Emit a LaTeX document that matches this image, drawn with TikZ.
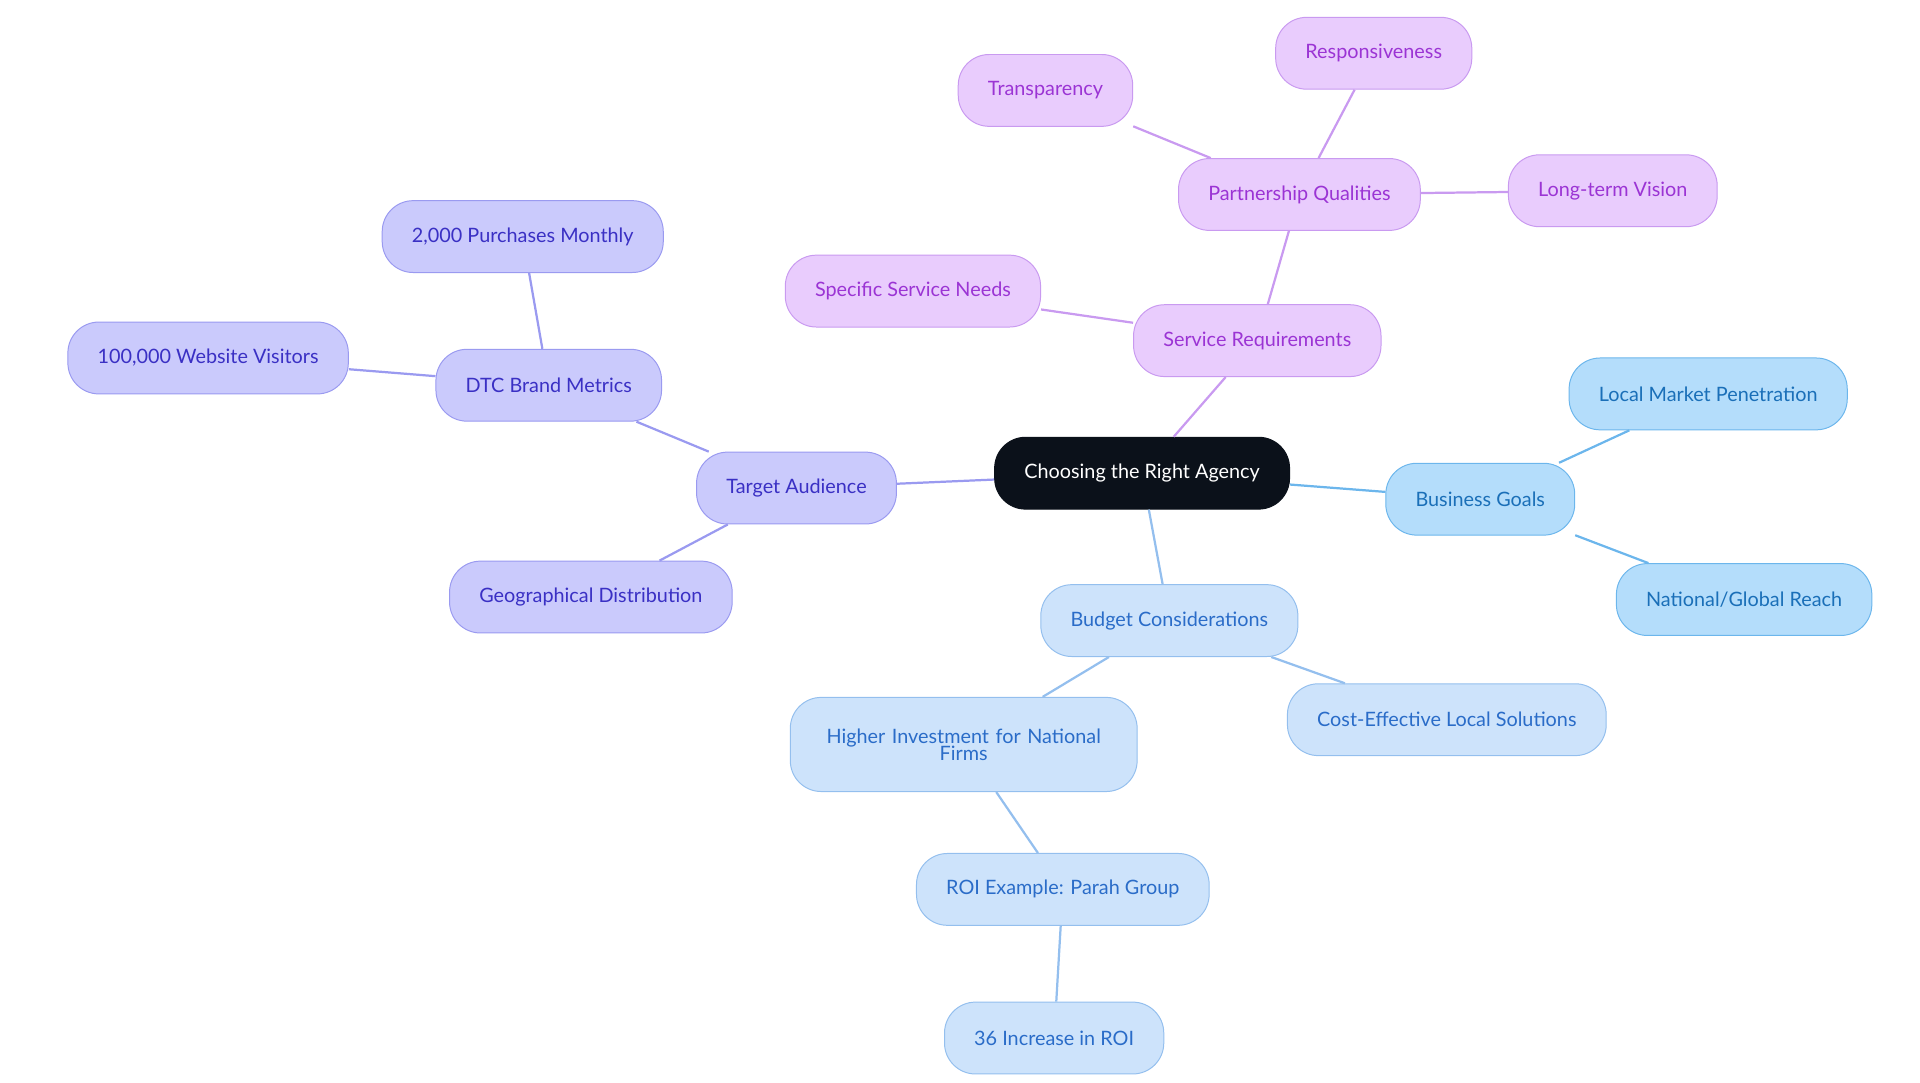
\documentclass[tikz,border=0pt]{standalone}
\usepackage{fontspec}
\setmainfont{Lato}
\usetikzlibrary{positioning}
\definecolor{rootfill}{HTML}{0B111A}
\definecolor{purfill}{HTML}{E9CCFD}\definecolor{purline}{HTML}{C99AF0}\definecolor{purtext}{HTML}{9B34D4}
\definecolor{vfill}{HTML}{CACAFC}\definecolor{vline}{HTML}{9A9AF0}\definecolor{vtext}{HTML}{3A30C4}
\definecolor{bfill}{HTML}{B4DDFB}\definecolor{bline}{HTML}{6CB6EC}\definecolor{btext}{HTML}{1A6FB8}
\definecolor{pfill}{HTML}{CDE3FB}\definecolor{pline}{HTML}{94BFEE}\definecolor{ptext}{HTML}{2A6CC8}
\begin{document}
\begin{tikzpicture}[x=1pt,y=-1pt,
    topic/.style={rectangle,rounded corners=25pt,minimum height=58pt,inner xsep=24pt,
      font=\fontsize{16}{17}\selectfont,align=center,line width=0.8pt},
    rootnode/.style={topic,fill=rootfill,draw=rootfill,text=white},
    pur/.style={topic,fill=purfill,draw=purline,text=purtext},
    vio/.style={topic,fill=vfill,draw=vline,text=vtext},
    blu/.style={topic,fill=bfill,draw=bline,text=btext},
    pal/.style={topic,fill=pfill,draw=pline,text=ptext},
    link/.style={line width=1.8pt}]
  \useasboundingbox (0,0) rectangle (1550,874);

  % edges first
  \coordinate (cRoot) at (922,382);
  % root
  \node[rootnode] (root) at (922,382) {Choosing the Right Agency};
  % service requirements
  \node[pur] (serv) at (1015,275) {Service Requirements};
  \node[pur] (part) at (1049,157) {Partnership Qualities};
  \node[pur] (trans) at (844,73) {Transparency};
  \node[pur] (resp) at (1109,43) {Responsiveness};
  \node[pur] (vision) at (1302,154) {Long-term Vision};
  \node[pur] (spec) at (737,235) {Specific Service Needs};
  % business goals
  \node[blu] (goals) at (1195,403) {Business Goals};
  \node[blu] (local) at (1379,318) {Local Market Penetration};
  \node[blu] (natl) at (1408,484) {National/Global Reach};
  % budget
  \node[pal] (budget) at (944,501) {Budget Considerations};
  \node[pal] (cost) at (1168,581) {Cost-Effective Local Solutions};
  \node[pal,minimum height=76pt,text width=232pt] (invest) at (778,601) {Higher Investment for National\\[-3pt]Firms};
  \node[pal] (roi) at (858,718) {ROI Example: Parah Group};
  \node[pal] (incr) at (851,838) {36 Increase in ROI};
  % target audience
  \node[vio] (aud) at (643,394) {Target Audience};
  \node[vio] (dtc) at (443,311) {DTC Brand Metrics};
  \node[vio] (purch) at (422,191) {2,000 Purchases Monthly};
  \node[vio] (visit) at (168,289) {100,000 Website Visitors};
  \node[vio] (geo) at (477,482) {Geographical Distribution};

  % connectors
  \draw[link,purline] (root) -- (serv);
  \draw[link,purline] (serv) -- (part);
  \draw[link,purline] (serv) -- (spec);
  \draw[link,purline] (part) -- (trans);
  \draw[link,purline] (part) -- (resp);
  \draw[link,purline] (part) -- (vision);
  \draw[link,bline] (root) -- (goals);
  \draw[link,bline] (goals) -- (local);
  \draw[link,bline] (goals) -- (natl);
  \draw[link,pline] (root) -- (budget);
  \draw[link,pline] (budget) -- (cost);
  \draw[link,pline] (budget) -- (invest);
  \draw[link,pline] (invest) -- (roi);
  \draw[link,pline] (roi) -- (incr);
  \draw[link,vline] (root) -- (aud);
  \draw[link,vline] (aud) -- (dtc);
  \draw[link,vline] (aud) -- (geo);
  \draw[link,vline] (dtc) -- (purch);
  \draw[link,vline] (dtc) -- (visit);
\end{tikzpicture}
\end{document}
